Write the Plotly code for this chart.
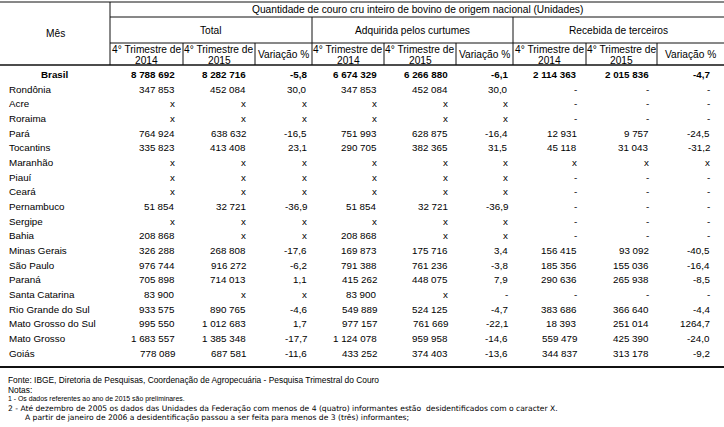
import plotly.graph_objects as go

# ---------------- data ----------------
states = ["Rondônia", "Acre", "Roraima", "Pará", "Tocantins", "Maranhão", "Piauí", "Ceará",
          "Pernambuco", "Sergipe", "Bahia", "Minas Gerais", "São Paulo", "Paraná",
          "Santa Catarina", "Rio Grande do Sul", "Mato Grosso do Sul", "Mato Grosso", "Goiás"]

brasil = [8788692, 8282716, -5.8, 6674329, 6266880, -6.1, 2114363, 2015836, -4.7]

total_2014 = [347853, "x", "x", 764924, 335823, "x", "x", "x", 51854, "x", 208868, 326288,
              976744, 705898, 83900, 933575, 995550, 1683557, 778089]
total_2015 = [452084, "x", "x", 638632, 413408, "x", "x", "x", 32721, "x", "x", 268808,
              916272, 714013, "x", 890765, 1012683, 1385348, 687581]
total_var = [30.0, "x", "x", -16.5, 23.1, "x", "x", "x", -36.9, "x", "x", -17.6,
             -6.2, 1.1, "x", -4.6, 1.7, -17.7, -11.6]
adq_2014 = [347853, "x", "x", 751993, 290705, "x", "x", "x", 51854, "x", 208868, 169873,
            791388, 415262, 83900, 549889, 977157, 1124078, 433252]
adq_2015 = [452084, "x", "x", 628875, 382365, "x", "x", "x", 32721, "x", "x", 175716,
            761236, 448075, "x", 524125, 761669, 959958, 374403]
adq_var = [30.0, "x", "x", -16.4, 31.5, "x", "x", "x", -36.9, "x", "x", 3.4,
           -3.8, 7.9, "-", -4.7, -22.1, -14.6, -13.6]
rec_2014 = ["-", "-", "-", 12931, 45118, "x", "-", "-", "-", "-", "-", 156415,
            185356, 290636, "-", 383686, 18393, 559479, 344837]
rec_2015 = ["-", "-", "-", 9757, 31043, "x", "-", "-", "-", "-", "-", 93092,
            155036, 265938, "-", 366640, 251014, 425390, 313178]
rec_var = ["-", "-", "-", -24.5, -31.2, "x", "-", "-", "-", "-", "-", -40.5,
           -16.4, -8.5, "-", -4.4, 1264.7, -24.0, -9.2]

title = "Quantidade de couro cru inteiro de bovino de origem nacional (Unidades)"
groups = ["Total", "Adquirida pelos curtumes", "Recebida de terceiros"]
sub_line1 = ["4° Trimestre de", "4° Trimestre de", "Variação %"]
sub_line2 = ["2014", "2015", ""]
row_header = "Mês"
total_label = "Brasil"
footer_lines = [
    "Fonte: IBGE, Diretoria de Pesquisas, Coordenação de Agropecuária - Pesquisa Trimestral do Couro",
    "Notas:",
    "1 - Os dados referentes ao ano de 2015 são preliminares.",
    "2 - Até dezembro de 2005 os dados das Unidades da Federação com menos de 4 (quatro) informantes estão  desidentificados com o caracter X.",
    "A partir de janeiro de 2006 a desidentificação passou a ser feita para menos de 3 (três) informantes;",
]

columns = [total_2014, total_2015, total_var, adq_2014, adq_2015, adq_var, rec_2014, rec_2015, rec_var]
is_pct = [False, False, True] * 3

# ---------------- layout constants ----------------
W, H = 724, 427
FONT = "Liberation Sans, Arial, sans-serif"
FS = 9.8
FSH = 10.2
col_edges = [110, 183, 255, 312, 384, 456, 513, 586, 657, 724]
col_right = [177, 248, 309, 379, 450, 510, 579, 651, 712]
group_edges = [110, 312, 513, 724]
y_top, y_r1, y_r2, y_head = 2, 17, 43, 65
y_first, row_h = 74.5, 14.67
y_bottom = 367


def fmt(v, pct):
    if isinstance(v, str):
        return v
    if pct:
        return f"{v:.1f}".replace(".", ",")
    return f"{v:,}".replace(",", " ")


fig = go.Figure()
ann = []
shapes = []


def text(x, y, t, anchor="center", size=FS, bold=False, family=FONT):
    ann.append(dict(x=x, y=y, xref="x", yref="y", text=f"<b>{t}</b>" if bold else t,
                    showarrow=False, xanchor=anchor, yanchor="middle",
                    font=dict(family=family, size=size, color="#000"),
                    align=anchor if anchor != "center" else "center"))


def line(x0, y0, x1, y1, w=1):
    shapes.append(dict(type="line", xref="x", yref="y", x0=x0, y0=y0, x1=x1, y1=y1,
                       line=dict(color="#111", width=w)))


# header lines
line(0, y_top, W, y_top)
line(110, y_r1, W, y_r1)
line(110, y_r2, W, y_r2)
line(0, y_head, W, y_head, 1.6)
line(110, y_top, 110, y_head)
for gx in group_edges[1:-1]:
    line(gx, y_r1, gx, y_head)
for cx in col_edges[1:-1]:
    if cx not in group_edges:
        line(cx, y_r2, cx, y_head)
line(0, y_bottom, W, y_bottom, 2)

# header texts
text(55, 33.5, row_header, size=FSH)
text((110 + W) / 2, 9.5, title, size=FSH)
for g in range(3):
    text((group_edges[g] + group_edges[g + 1]) / 2, 30, groups[g], size=FSH)
    for k in range(3):
        c = g * 3 + k
        cx = (col_edges[c] + col_edges[c + 1]) / 2
        if sub_line2[k]:
            text(cx, 49.3, sub_line1[k], size=FSH)
            text(cx, 60, sub_line2[k], size=FSH)
        else:
            text(cx, 54.5, sub_line1[k], size=FSH)

# Brasil row
text(55, y_first, total_label, bold=True)
for c, v in enumerate(brasil):
    text(col_right[c], y_first, fmt(v, is_pct[c]), anchor="right", bold=True)

# state rows
for i, s in enumerate(states):
    y = y_first + (i + 1) * row_h
    text(7, y, s, anchor="left")
    for c, col in enumerate(columns):
        text(col_right[c], y, fmt(col[i], is_pct[c]), anchor="right")

# footer
text(6, 380, footer_lines[0], anchor="left", size=8.4)
text(6, 389.5, footer_lines[1], anchor="left", size=8.4)
text(6, 398.5, footer_lines[2], anchor="left", size=6.9)
text(6, 408, footer_lines[3], anchor="left", size=7.6, family="DejaVu Sans, Verdana, sans-serif")
text(22.5, 417, footer_lines[4], anchor="left", size=7.6, family="DejaVu Sans, Verdana, sans-serif")

fig.update_layout(
    width=W, height=H, margin=dict(l=0, r=0, t=0, b=0),
    paper_bgcolor="white", plot_bgcolor="white",
    xaxis=dict(range=[0, W], visible=False, fixedrange=True),
    yaxis=dict(range=[H, 0], visible=False, fixedrange=True),
    annotations=ann, shapes=shapes, showlegend=False,
)
fig.write_html("out.html", config={"displayModeBar": False},
               post_script="document.body.style.margin='0';document.body.style.overflow='hidden';")
